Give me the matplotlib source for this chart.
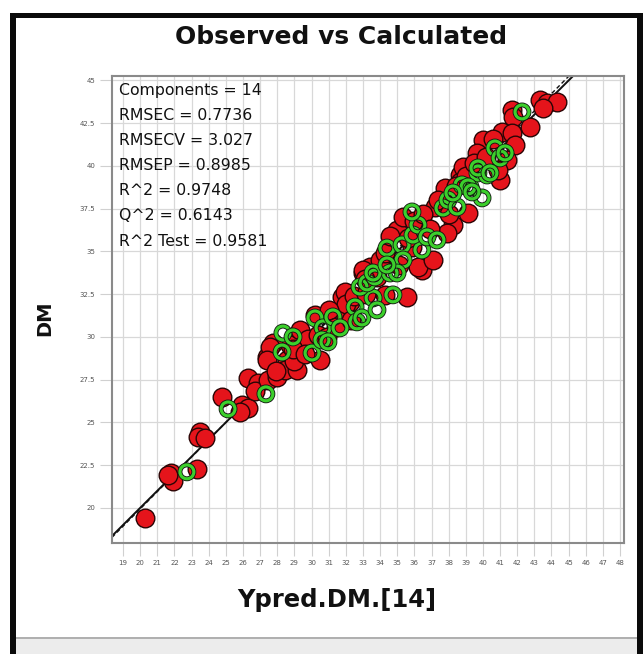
import matplotlib
matplotlib.use("Agg")
import matplotlib.pyplot as plt
import matplotlib.patheffects as pe
from matplotlib.patches import Rectangle
import numpy as np

# calibration samples (observed DM vs predicted) - red
cal_pred = [20.28, 21.80, 21.92, 21.63, 23.32, 23.49, 23.38, 23.78, 24.78,
            25.94, 26.29, 25.83, 26.29, 26.88, 26.70, 27.46, 27.98, 27.40,
            28.57, 28.74, 27.75, 27.58, 27.40, 28.45, 29.15, 29.33, 30.49,
            30.20, 31.54, 31.78, 32.24, 31.95, 33.00, 33.41, 34.29, 35.57,
            33.99, 35.86, 34.99, 35.34, 36.44, 36.21, 37.79, 37.20, 38.25,
            39.13, 38.66, 37.90, 37.09, 33.00, 43.33, 43.74, 44.32, 43.50,
            41.70, 41.76, 42.75, 41.11, 41.70, 40.00, 41.87, 41.40, 39.65,
            38.84, 38.66, 41.00, 40.88,
            32.0, 32.5, 33.2, 33.8, 34.3, 34.6, 35.1, 35.6, 36.0, 36.5, 36.9,
            37.4, 38.0, 38.4, 39.0, 39.5, 40.2, 40.6, 29.8, 30.4, 31.0, 31.4,
            29.0, 27.9, 30.9, 32.3, 33.1, 28.9, 29.6]
cal_obs = [19.42, 22.05, 21.58, 21.90, 22.28, 24.44, 24.15, 24.09, 26.49,
           26.02, 25.85, 25.61, 27.60, 27.31, 26.84, 27.49, 27.66, 28.83,
           28.65, 29.53, 29.65, 29.42, 28.65, 28.07, 28.07, 30.41, 28.65,
           31.29, 31.40, 32.34, 32.05, 32.63, 33.74, 34.09, 32.46, 32.34,
           34.50, 35.26, 36.26, 37.02, 33.92, 34.09, 38.71, 37.60, 36.55,
           37.25, 39.47, 36.08, 34.50, 33.92, 43.86, 43.68, 43.74, 43.39,
           43.27, 42.87, 42.28, 41.99, 41.93, 41.52, 41.23, 40.35, 40.76,
           39.94, 39.06, 39.18, 39.77,
           31.9, 32.4, 32.5, 33.5, 34.9, 35.9, 34.2, 35.8, 36.8, 37.2, 36.3,
           38.0, 37.2, 38.8, 39.4, 40.2, 40.5, 41.6, 29.9, 30.1, 31.6, 30.6,
           28.6, 28.0, 30.0, 31.0, 33.4, 29.3, 29.0]

# test samples - green rings
test_pred = [22.73, 25.13, 27.34, 28.33, 28.92, 28.28, 30.03, 30.20, 30.67,
             30.61, 30.96, 31.25, 31.66, 32.54, 32.65, 32.94, 33.59, 33.82,
             32.83, 33.24, 33.70, 34.58, 34.75, 34.40, 35.28, 35.34, 34.99,
             33.59, 34.40, 36.44, 35.92, 36.21, 36.74, 37.32, 35.86, 37.67,
             37.96, 38.49, 38.78, 39.25, 39.71, 39.95, 40.24, 42.28, 40.70,
             41.00, 41.29, 39.71, 40.41, 39.13, 39.36, 38.25]
test_obs = [22.11, 25.79, 26.67, 30.23, 30.00, 29.12, 29.06, 31.11, 30.53,
            29.82, 29.71, 31.17, 30.53, 31.75, 30.88, 31.11, 32.28, 31.58,
            32.92, 33.16, 33.51, 33.74, 32.46, 35.20, 35.38, 34.50, 33.74,
            33.74, 34.21, 35.09, 35.96, 36.55, 35.85, 35.67, 37.31, 37.54,
            38.01, 37.60, 38.89, 38.77, 39.59, 38.13, 39.47, 43.16, 41.05,
            40.47, 40.76, 39.88, 39.59, 38.77, 38.48, 38.42]

stats = ["Components = 14", "RMSEC = 0.7736", "RMSECV = 3.027",
         "RMSEP = 0.8985", "R^2 = 0.9748", "Q^2 = 0.6143", "R^2 Test = 0.9581"]

xticks = np.arange(19, 49)
yticks = np.arange(20, 45.1, 2.5)
ylabels = ["20", "22.5", "25", "27.5", "30", "32.5", "35", "37.5", "40", "42.5", "45"]

W, H = 643, 654
fig = plt.figure(figsize=(W / 100, H / 100), dpi=100)
fig.patch.set_facecolor("white")

ax = fig.add_axes([112 / W, 1 - 543 / H, (624 - 112) / W, (543 - 76) / H])
ax.set_xlim(18.36, 48.23)
ax.set_ylim(17.95, 45.26)

ax.set_xticks(xticks)
ax.set_xticklabels([str(v) for v in xticks], fontsize=5, color="#555")
ax.set_yticks(yticks)
ax.set_yticklabels(ylabels, fontsize=5, color="#555")
ax.tick_params(axis="both", length=9, width=0.8, color="#d0d0d0", pad=3)
ax.grid(True, color="#d8d8d8", lw=0.9, zorder=0)
ax.set_axisbelow(True)
for sp in ax.spines.values():
    sp.set_color("#8a8a8a")
    sp.set_linewidth(1.5)

# identity and fitted lines
lx = np.array([18.36, 48.23])
ax.plot(lx, lx, color="#111", lw=1.4, zorder=2)
ax.plot(lx, 1.012 * lx - 0.3, color="#111", lw=1.0, ls=(0, (3, 2)), zorder=2)

ax.scatter(cal_pred, cal_obs, s=180, facecolor="#e5141b", edgecolor="#2a0505",
           linewidths=1.0, zorder=3)
ax.scatter(test_pred, test_obs, s=100, facecolor="none", edgecolor="#3ccf2c",
           linewidths=2.3, zorder=4,
           path_effects=[pe.withStroke(linewidth=3.5, foreground="#111")])

for i, s in enumerate(stats):
    fig.text(119 / W, 1 - (90 + i * 25.2) / H, s, fontsize=11.3, color="#111",
             ha="left", va="center")

fig.text(341 / W, 1 - 44 / H, "Observed vs Calculated", fontsize=18,
         fontweight="bold", ha="center", va="baseline", color="#111")
fig.text(337 / W, 1 - 600 / H, "Ypred.DM.[14]", fontsize=17.5,
         fontweight="bold", ha="center", va="center", color="#111")
fig.text(45 / W, 1 - 318 / H, "DM", fontsize=14, fontweight="bold",
         rotation=90, ha="center", va="center", color="#111")

# window frame
def box(x0, y0, x1, y1, color, z=10):
    fig.patches.append(Rectangle((x0 / W, 1 - y1 / H), (x1 - x0) / W, (y1 - y0) / H,
                                 transform=fig.transFigure, facecolor=color,
                                 edgecolor="none", zorder=z))

box(16, 638, 637, 654, "#ececec")
box(16, 637, 637, 639, "#b0b0b0")
box(10, 13, 643, 18, "#0a0a0a")
box(10, 13, 16, 654, "#0a0a0a")
box(637, 13, 643, 654, "#0a0a0a")

fig.savefig("out.png", dpi=100, facecolor="white")
